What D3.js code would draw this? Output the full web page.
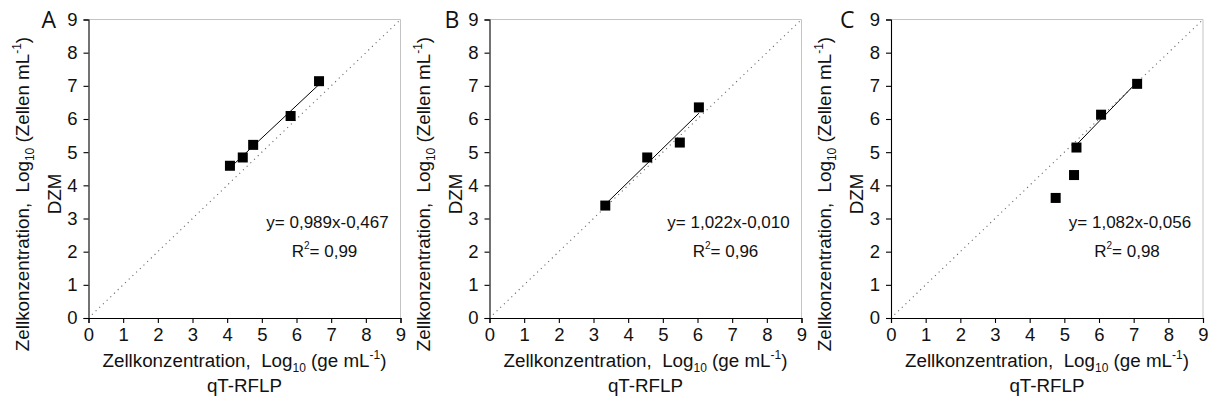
<!DOCTYPE html>
<html>
<head>
<meta charset="utf-8">
<script src="https://cdn.jsdelivr.net/npm/d3@7"></script>
<style>
  html, body { margin: 0; padding: 0; background: #fff; }
  svg { display: block; font-family: "Liberation Sans", Arial, sans-serif; }
  text { white-space: pre; }
</style>
</head>
<body>
<svg id="chart" width="1210" height="404"></svg>
<script>
// Panel letters
const panelLabels = ["A", "B", "C"];

// qT-RFLP (x) vs. DZM (y), log10 cell concentrations
const qtA = [4.08, 4.45, 4.75, 5.83, 6.65];
const dzmA = [4.59, 4.84, 5.22, 6.09, 7.14];
const qtB = [3.34, 4.55, 5.49, 6.04];
const dzmB = [3.39, 4.84, 5.29, 6.35];
const qtC = [4.75, 5.28, 5.35, 6.06, 7.10];
const dzmC = [3.62, 4.31, 5.14, 6.13, 7.06];

// Indices of the points used for each regression line
const fitA = [0, 1, 2, 3, 4];
const fitB = [0, 1, 2, 3];
const fitC = [2, 3, 4];

// Regression annotations
const equations = ["y= 0,989x-0,467", "y= 1,022x-0,010", "y= 1,082x-0,056"];
const rSquared = ["0,99", "0,96", "0,98"];

// Axis ticks
const tickValues = [0, 1, 2, 3, 4, 5, 6, 7, 8, 9];

const datasets = [
  { label: panelLabels[0], x: qtA, y: dzmA, fit: fitA, eq: equations[0], r2: rSquared[0] },
  { label: panelLabels[1], x: qtB, y: dzmB, fit: fitB, eq: equations[1], r2: rSquared[1] },
  { label: panelLabels[2], x: qtC, y: dzmC, fit: fitC, eq: equations[2], r2: rSquared[2] }
];

// Layout of the three panels
const panelLeft = [88.5, 489.5, 891];
const letterOffset = [-47, -45, -51];
const plotW = 312, plotTop = 19.5, plotH = 298.5;
const titleSize = 18.8, tickSize = 18.5, noteSize = 17;

const svg = d3.select("#chart");

function leastSquares(xs, ys) {
  const mx = d3.mean(xs), my = d3.mean(ys);
  let sxy = 0, sxx = 0;
  xs.forEach((v, i) => { sxy += (v - mx) * (ys[i] - my); sxx += (v - mx) * (v - mx); });
  const slope = sxy / sxx;
  return { slope, intercept: my - slope * mx };
}

// text with a subscript "10" and superscript "-1"
function logTitle(sel, head, tail) {
  sel.append("tspan").text(head);
  sel.append("tspan").attr("font-size", 12).attr("dy", 5).text("10");
  sel.append("tspan").attr("dy", -5).text(tail);
  sel.append("tspan").attr("font-size", 12).attr("dy", -8).text("-1");
  sel.append("tspan").attr("dy", 8).text(")");
}

datasets.forEach((d, i) => {
  const left = panelLeft[i];
  const x = d3.scaleLinear().domain([0, 9]).range([0, plotW]);
  const y = d3.scaleLinear().domain([0, 9]).range([plotH, 0]);
  const g = svg.append("g").attr("transform", `translate(${left},${plotTop})`);

  // light frame on top and right
  g.append("path")
    .attr("d", `M0,${y(9)}H${x(9)}V${y(0)}`)
    .attr("fill", "none").attr("stroke", "#c4c4c4").attr("stroke-width", 1);

  // 1:1 reference line
  g.append("line")
    .attr("x1", x(0.1)).attr("y1", y(0.1)).attr("x2", x(9)).attr("y2", y(9))
    .attr("stroke", "#666").attr("stroke-width", 1.1)
    .attr("stroke-dasharray", "1.1,4");

  // axes
  const xAxis = g.append("g").attr("transform", `translate(0,${plotH})`)
    .call(d3.axisBottom(x).tickValues(tickValues).tickSize(5).tickPadding(5).tickFormat(d3.format("d")));
  const yAxis = g.append("g")
    .call(d3.axisLeft(y).tickValues(tickValues).tickSize(5).tickPadding(6).tickFormat(d3.format("d")));
  [xAxis, yAxis].forEach(a => {
    a.attr("font-family", null).attr("font-size", null);
    a.select(".domain").attr("stroke", "#000").attr("stroke-width", 1.1);
    a.selectAll(".tick line").attr("stroke", "#000").attr("stroke-width", 1.1);
    a.selectAll(".tick text")
      .attr("font-family", "Liberation Sans, Arial, sans-serif")
      .attr("font-size", tickSize).attr("fill", "#111");
  });

  // regression line over the fitted points
  const fx = d.fit.map(k => d.x[k]), fy = d.fit.map(k => d.y[k]);
  const lf = leastSquares(fx, fy);
  const x0 = d3.min(fx), x1 = d3.max(fx);
  g.append("line")
    .attr("x1", x(x0)).attr("y1", y(lf.slope * x0 + lf.intercept))
    .attr("x2", x(x1)).attr("y2", y(lf.slope * x1 + lf.intercept))
    .attr("stroke", "#000").attr("stroke-width", 1);

  // data points
  const sq = 10;
  g.selectAll("rect.pt").data(d.x.map((v, k) => [v, d.y[k]])).join("rect")
    .attr("class", "pt")
    .attr("x", p => x(p[0]) - sq / 2).attr("y", p => y(p[1]) - sq / 2)
    .attr("width", sq).attr("height", sq).attr("fill", "#000");

  // equation and R²
  const ex = 239;
  g.append("text").attr("x", ex).attr("y", 228 - plotTop)
    .attr("text-anchor", "middle").attr("font-size", noteSize).attr("fill", "#111")
    .text(d.eq);
  const r2t = g.append("text").attr("x", ex - 3).attr("y", 257 - plotTop)
    .attr("text-anchor", "middle").attr("font-size", noteSize).attr("fill", "#111");
  r2t.append("tspan").text("R");
  r2t.append("tspan").attr("font-size", 10).attr("dy", -8).text("2");
  r2t.append("tspan").attr("dy", 8).text("= " + d.r2);

  // x axis title
  const xt = svg.append("text")
    .attr("x", left + 156).attr("y", 367)
    .attr("text-anchor", "middle").attr("font-size", titleSize).attr("fill", "#111");
  logTitle(xt, "Zellkonzentration,  Log", " (ge mL");
  svg.append("text")
    .attr("x", left + 156).attr("y", 392)
    .attr("text-anchor", "middle").attr("font-size", titleSize).attr("fill", "#111")
    .text("qT-RFLP");

  // y axis title
  const cy = 194;
  const yt = svg.append("text")
    .attr("transform", `translate(${left - 60},${cy}) rotate(-90)`)
    .attr("text-anchor", "middle").attr("font-size", titleSize).attr("fill", "#111");
  logTitle(yt, "Zellkonzentration,  Log", " (Zellen mL");
  svg.append("text")
    .attr("transform", `translate(${left - 28},${cy}) rotate(-90)`)
    .attr("text-anchor", "middle").attr("font-size", titleSize).attr("fill", "#111")
    .text("DZM");

  // panel letter
  svg.append("text")
    .attr("x", left + letterOffset[i]).attr("y", 28)
    .attr("font-family", "Open Sans, sans-serif").attr("font-size", 23).attr("fill", "#111")
    .text(d.label);
});
</script>
</body>
</html>
